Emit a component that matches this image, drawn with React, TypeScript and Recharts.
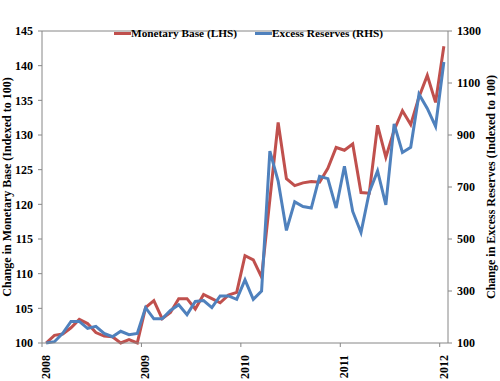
import React from "react";
import { LineChart, Line, XAxis, YAxis, Legend, ReferenceLine } from "recharts";

// Monthly, Jan 2008 .. Jan 2012
const yearLabels = ["2008", "2009", "2010", "2011", "2012"];
const monetaryBase = [
  100.0, 101.1, 101.3, 102.2, 103.4, 102.8, 101.5, 101.0, 100.9, 100.0, 100.5, 100.0,
  105.1, 106.1, 103.5, 104.4, 106.4, 106.4, 104.9, 107.0, 106.4, 105.8, 106.9, 107.3,
  112.6, 112.0, 109.5, 120.7, 131.8, 123.7, 122.7, 123.1, 123.3, 123.2, 125.2, 128.2,
  127.8, 128.7, 121.7, 121.6, 131.4, 126.8, 130.7, 133.5, 131.5, 135.5, 138.6, 134.7,
  142.8,
];
const excessReserves = [
  100, 105, 137, 183, 183, 156, 164, 137, 124, 145, 132, 137,
  236, 193, 193, 225, 247, 209, 260, 263, 236, 281, 281, 268,
  343, 268, 300, 838, 723, 533, 643, 625, 619, 741, 732, 619,
  780, 606, 525, 680, 762, 631, 943, 833, 853, 1057, 1002, 933,
  1181,
];
const leftTicks = [100, 105, 110, 115, 120, 125, 130, 135, 140, 145];
const rightTicks = [100, 300, 500, 700, 900, 1100, 1300];

const data = monetaryBase.map((v, i) => ({ i, base: v, reserves: excessReserves[i] }));
const yearTicks = yearLabels.map((_, k) => k * 12 - 0.5);

const RED = "#C0504D";
const BLUE = "#4F81BD";
const AXIS = "#868686";
const FONT = "'Liberation Serif', 'Times New Roman', serif";
const tickStyle = { fontFamily: FONT, fontSize: 12, fontWeight: 700, fill: "#000" };

const AxisTitle = (props: any) => {
  const { viewBox, value, cx } = props;
  const cy = viewBox.y + viewBox.height / 2;
  return (
    <text
      transform={`translate(${cx},${cy}) rotate(-90)`}
      textAnchor="middle"
      dominantBaseline="central"
      style={tickStyle}
    >
      {value}
    </text>
  );
};

const YearTick = (props: any) => {
  const { x, y, payload } = props;
  const label = yearLabels[Math.round((payload.value + 0.5) / 12)];
  return (
    <text
      transform={`translate(${x + 4},${y + 6}) rotate(-90)`}
      textAnchor="end"
      dominantBaseline="central"
      style={tickStyle}
    >
      {label}
    </text>
  );
};

const legendItems = [
  { name: "Monetary Base (LHS)", color: RED, left: 0 },
  { name: "Excess Reserves (RHS)", color: BLUE, left: 141 },
];

const LegendBox = () => (
  <div style={{ position: "relative", width: 280, height: 15, fontFamily: FONT, fontSize: 11.3, fontWeight: 700, lineHeight: "15px" }}>
    {legendItems.map((it) => (
      <div key={it.name} style={{ position: "absolute", left: it.left, top: 0, display: "flex", alignItems: "center", whiteSpace: "nowrap" }}>
        <span style={{ width: 17, height: 3, background: it.color, display: "inline-block" }} />
        <span>{it.name}</span>
      </div>
    ))}
  </div>
);

export default function App() {
  return (
    <div style={{ position: "absolute", left: 0, top: 0, width: 500, height: 381, background: "#fff" }}>
      <LineChart width={500} height={381} data={data} margin={{ top: 16, right: 0, bottom: 0, left: 0 }}>
        <XAxis
          dataKey="i"
          type="number"
          domain={[-0.5, 48.5]}
          ticks={yearTicks}
          interval={0}
          height={38}
          stroke={AXIS}
          tickSize={4}
          tick={<YearTick />}
        />
        <YAxis
          yAxisId="left"
          domain={[100, 145]}
          ticks={leftTicks}
          interval={0}
          width={42}
          stroke={AXIS}
          tickSize={4}
          tickMargin={5}
          tick={tickStyle}
          label={<AxisTitle value="Change in Monetary Base (Indexed to 100)" cx={7} />}
        />
        <YAxis
          yAxisId="right"
          orientation="right"
          domain={[100, 1300]}
          ticks={rightTicks}
          interval={0}
          width={52}
          stroke={AXIS}
          tickSize={4}
          tickMargin={5}
          tick={tickStyle}
          label={<AxisTitle value="Change in Excess Reserves (Indexed to 100)" cx={491} />}
        />
        <ReferenceLine yAxisId="left" y={145} stroke={AXIS} />
        <Legend verticalAlign="top" wrapperStyle={{ top: 26, left: 114, width: 280 }} content={<LegendBox />} />
        <Line
          yAxisId="left"
          dataKey="base"
          stroke={RED}
          strokeWidth={3}
          dot={false}
          isAnimationActive={false}
        />
        <Line
          yAxisId="right"
          dataKey="reserves"
          stroke={BLUE}
          strokeWidth={3}
          dot={false}
          isAnimationActive={false}
        />
      </LineChart>
    </div>
  );
}
